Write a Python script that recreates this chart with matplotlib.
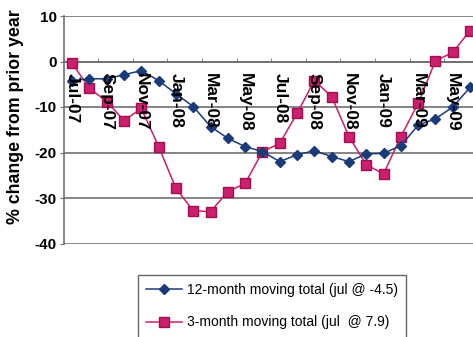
import matplotlib
matplotlib.use("Agg")
import matplotlib.pyplot as plt
from matplotlib.lines import Line2D

months = ["Jul-07", "Aug-07", "Sep-07", "Oct-07", "Nov-07", "Dec-07",
          "Jan-08", "Feb-08", "Mar-08", "Apr-08", "May-08", "Jun-08",
          "Jul-08", "Aug-08", "Sep-08", "Oct-08", "Nov-08", "Dec-08",
          "Jan-09", "Feb-09", "Mar-09", "Apr-09", "May-09", "Jun-09"]
twelve_month = [-4.2, -3.8, -3.8, -2.9, -2.0, -4.2, -7.1, -9.9, -14.3, -16.9,
                -18.7, -19.8, -22.0, -20.5, -19.6, -20.9, -22.0, -20.3, -20.2,
                -18.5, -14.0, -12.6, -10.0, -5.7]
three_month = [-0.4, -5.9, -8.8, -13.0, -10.3, -18.7, -27.9, -32.8, -33.0, -28.6,
               -26.8, -19.8, -18.0, -11.4, -4.2, -7.7, -16.5, -22.7, -24.7,
               -16.5, -9.2, 0.15, 2.0, 6.8]
yticks = [10, 0, -10, -20, -30, -40]
label_12 = "12-month moving total (jul @ -4.5)"
label_3 = "3-month moving total (jul  @ 7.9)"

blue = "#1B3A78"
pink = "#CC1F6E"
font = ["Liberation Sans", "DejaVu Sans"]
plt.rcParams["font.family"] = font

W, H = 473, 337
fig = plt.figure(figsize=(W / 100, H / 100), dpi=100)
left_px, right_px = 63.5, 63.5 + 25 * 17.3
top_px, bot_px = 16, 243.5
ax = fig.add_axes([left_px / W, 1 - bot_px / H, (right_px - left_px) / W, (bot_px - top_px) / H])

x = list(range(len(months)))
ax.plot(x, twelve_month, color=blue, lw=1.1, marker="D", markersize=5,
        markerfacecolor=blue, markeredgecolor=blue, zorder=4)
ax.plot(x, three_month, color=pink, lw=1.1, marker="s", markersize=7,
        markerfacecolor=pink, markeredgecolor="#A0104E", zorder=3)

ax.set_xlim(-0.5, 24.5)
ax.set_ylim(-40, 10)
ax.set_yticks(yticks)
ax.set_yticklabels([str(v) for v in yticks], fontsize=11, fontweight="bold")
ax.yaxis.grid(True, color="#707070", lw=1.2)
ax.set_axisbelow(True)
for s in ["top", "right"]:
    ax.spines[s].set_visible(False)
ax.spines["left"].set_color("#707070")
ax.spines["left"].set_linewidth(1.2)
ax.spines["bottom"].set_position(("data", 0))
ax.spines["bottom"].set_color("#707070")
ax.spines["bottom"].set_linewidth(1.2)
ax.tick_params(axis="y", length=3, color="#707070", pad=2)

# x-axis: tick marks between category pairs, labels every 2 months
ax.set_xticks(x[::2])
ax.set_xticklabels([])
ax.set_xticks([i + 1.5 for i in range(-2, 24, 2)], minor=True)
ax.tick_params(axis="x", which="major", length=0)
ax.tick_params(axis="x", which="minor", length=3, direction="in", color="#707070")
for i in x[::2]:
    ax.text(i, -2.6, months[i], rotation=-90, ha="center", va="top",
            fontsize=12.5, fontweight="bold", zorder=5)

fig.text(16 / W, 1 - 117 / H, "% change from prior year", rotation=90,
         ha="center", va="center", fontsize=12.8, fontweight="bold")

handles = [Line2D([], [], color=blue, lw=1.1, marker="D", markersize=5),
           Line2D([], [], color=pink, lw=1.1, marker="s", markersize=7,
                  markeredgecolor="#A0104E")]
leg = fig.legend(handles, [label_12, label_3], loc="upper left",
                 bbox_to_anchor=(138 / W, 1 - 275 / H), fontsize=10,
                 frameon=True, fancybox=False, edgecolor="#404040",
                 handlelength=2.6, handletextpad=0.3, labelspacing=1.3,
                 borderpad=0.6, borderaxespad=0)
leg.get_frame().set_linewidth(1.0)

fig.savefig("out.png", dpi=100)
